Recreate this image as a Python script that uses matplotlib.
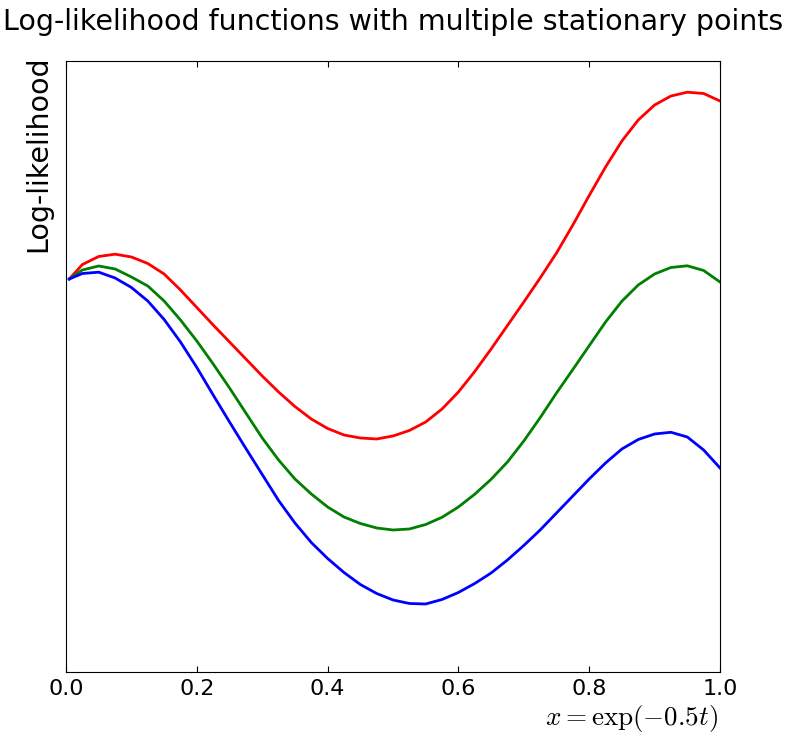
import numpy as np
import matplotlib
matplotlib.use('Agg')
import matplotlib.pyplot as plt

plt.rcParams['mathtext.fontset'] = 'cm'

# values (x = exp(-0.5t) in [0, 1]; y in arbitrary units, 0 = bottom of axes)
x_grid = np.array([0.005, 0.025, 0.05, 0.075, 0.1, 0.125, 0.15, 0.175, 0.2, 0.225,
                   0.25, 0.275, 0.3, 0.325, 0.35, 0.375, 0.4, 0.425, 0.45, 0.475,
                   0.5, 0.525, 0.55, 0.575, 0.6, 0.625, 0.65, 0.675, 0.7, 0.725,
                   0.75, 0.775, 0.8, 0.825, 0.85, 0.875, 0.9, 0.925, 0.95, 0.975, 1.0])

red_ll = np.array([393, 407.5, 415.5, 417.8, 415, 408.5, 398, 382, 364.5, 347,
                   330, 313, 296, 280, 265.5, 253, 243.5, 237, 234, 233,
                   236, 241.5, 250, 263, 280, 300.5, 323, 346.5, 370, 394,
                   419, 447, 476.5, 505, 531, 552, 567, 576, 579.8, 578.5, 571])

green_ll = np.array([393, 402, 406, 403, 395, 386, 371, 352, 331, 308,
                     284, 259, 234, 212, 193, 178, 165, 155, 148.5, 144,
                     142, 143, 147.5, 154.7, 165, 177.8, 192.7, 210, 231, 254.3,
                     279, 302.5, 326.3, 350, 370.8, 387, 398, 404.5, 406.2, 401.5, 390])

blue_ll = np.array([393, 398.5, 399.8, 394, 384.5, 371, 352.5, 330, 304.5, 277,
                    250, 223.5, 197.5, 171.5, 149, 129.5, 113.5, 99.5, 87.5, 78.5,
                    72, 68.5, 68, 72.5, 79.5, 88.5, 99, 112, 126.5, 142,
                    159, 176, 193, 209, 223, 232.5, 238, 239.7, 235, 222, 204])

fig = plt.figure(figsize=(7.88, 7.34), dpi=100)
ax = fig.add_axes([0.0838, 0.0845, 0.8299, 0.8324])

ax.plot(x_grid, red_ll, color='red', lw=2)
ax.plot(x_grid, green_ll, color='green', lw=2)
ax.plot(x_grid, blue_ll, color='blue', lw=2)

ax.set_xlim(0, 1)
ax.set_ylim(0, 611)
ax.set_xticks([0.0, 0.2, 0.4, 0.6, 0.8, 1.0])
ax.set_yticks([])
ax.tick_params(axis='x', direction='in', top=True, length=4, labelsize=16, pad=5)

ax.set_title('Log-likelihood functions with multiple stationary points', fontsize=20.5, pad=22)
ax.text(-0.043, 1.01, 'Log-likelihood', rotation=90, ha='center', va='top',
        transform=ax.transAxes, fontsize=20.5)
ax.text(0.997, -0.086, r'$x = \exp(-0.5t)$', ha='right', va='baseline',
        transform=ax.transAxes, fontsize=19.5)

fig.savefig('out.png', dpi=100)
